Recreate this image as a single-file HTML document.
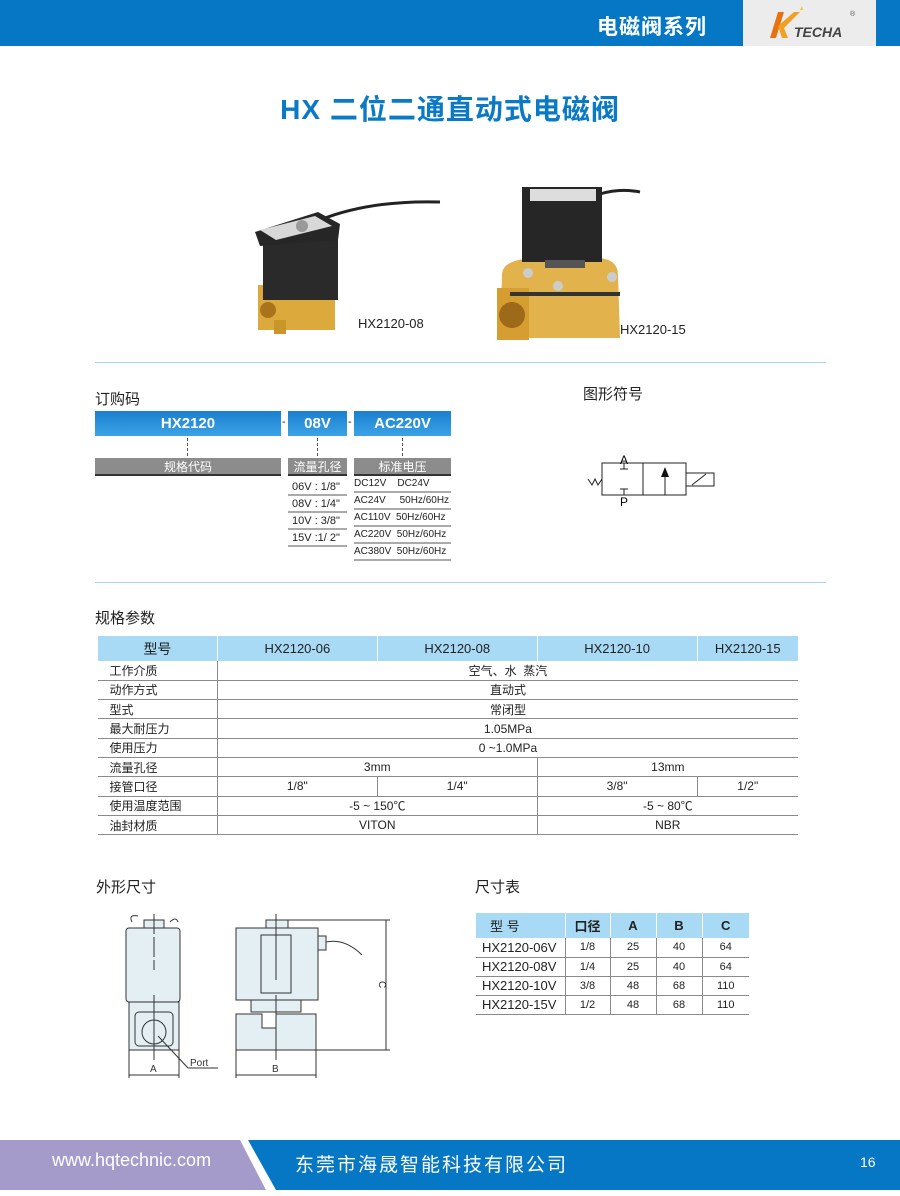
<!DOCTYPE html>
<html><head><meta charset="utf-8"><style>
*{margin:0;padding:0;box-sizing:border-box}
body{width:900px;height:1196px;position:relative;background:#fff;font-family:"Liberation Sans","Noto Sans CJK SC",sans-serif;overflow:hidden;color:#222}
.a{position:absolute}
.t{position:absolute;white-space:nowrap}
table{border-collapse:collapse;position:absolute;font-size:12px}
.spec td{height:19.3px;text-align:center;border-bottom:1px solid #8a8a8a;border-left:1px solid #8a8a8a;padding:0}
.spec td:first-child{text-align:left;padding-left:12px;border-left:none}
.spec tr.h td{background:#a8daf5;height:25px;font-size:13px;border-bottom:none;border-left:1px solid #fff}
.spec tr.h td:first-child{text-align:center;font-size:14px;padding:0}
.sz td{height:19px;text-align:center;border-bottom:1px solid #8a8a8a;border-left:1px solid #8a8a8a;font-size:11px;padding:0}
.sz td:first-child{border-left:none;font-size:13px;text-align:left;padding-left:6px}
.sz tr.h td{background:#a8daf5;height:25px;font-size:13px;border-left:1px solid #fff;border-bottom:none;font-weight:bold}
.sz tr.h td:first-child{border-left:none;font-weight:normal;padding-left:14px}
.bb{position:absolute;height:25px;background:linear-gradient(#1a7fcf,#3ba3e6);color:#fff;font-weight:bold;font-size:15px;text-align:center;line-height:25px}
.gb{position:absolute;top:458px;height:18px;background:#8c8c8c;color:#fff;font-size:12px;text-align:center;line-height:18px;border-bottom:2px solid #333}
.row{position:absolute;font-size:11px;border-bottom:2px solid #aaa;height:16.8px;line-height:16px}
.dash{position:absolute;width:0;height:18px;border-left:1px dashed #555;top:438px}
</style></head><body>
<!-- header -->
<div class="a" style="left:0;top:0;width:900px;height:46px;background:#0577c4"></div>
<div class="a" style="left:743px;top:0;width:133px;height:46px;background:#ececec"></div>
<div class="t" style="left:597px;top:11px;font-size:21px;font-weight:bold;color:#fff;letter-spacing:1px">电磁阀系列</div>
<svg class="a" style="left:760px;top:4px" width="110" height="40"><polygon points="10,34 18,8 24,8 16,34" fill="#e87212"/><polygon points="18,22 34,8 40,8 24,24 28,34 22,34" fill="#f1a224"/><polygon points="40,6 42,2 43,6" fill="#f6c21c"/><text x="34" y="33" font-size="14" font-style="italic" font-weight="bold" fill="#444" font-family="Liberation Sans">TECHA</text><text x="90" y="12" font-size="7" fill="#555">®</text></svg>
<div class="t" style="left:0;width:900px;text-align:center;top:88px;font-size:28px;font-weight:bold;color:#0a79c6;letter-spacing:1px">HX 二位二通直动式电磁阀</div>
<!-- photos -->
<svg class="a" style="left:240px;top:180px" width="410" height="170">
<path d="M80 40 Q130 20 200 22" stroke="#222" stroke-width="3" fill="none"/>
<path d="M360 14 Q380 8 400 12" stroke="#222" stroke-width="3" fill="none"/>
<rect x="18" y="105" width="77" height="45" fill="#dcaa3c"/><rect x="34" y="140" width="12" height="14" fill="#c9962a"/>
<circle cx="28" cy="130" r="8" fill="#a8731a"/>
<rect x="23" y="58" width="75" height="62" fill="#2a2a2a"/>
<polygon points="15,52 78,32 100,44 98,60 20,66" fill="#262626"/>
<polygon points="20,50 75,36 92,46 36,60" fill="#d8d8d8"/>
<circle cx="62" cy="46" r="6" fill="#999"/>
<path d="M262 95 Q262 78 300 78 L360 78 Q378 80 378 95 L380 158 L260 158 Z" fill="#e2b24c"/>
<rect x="257" y="108" width="32" height="52" fill="#d69e30"/>
<circle cx="272" cy="135" r="13" fill="#9c6a18"/>
<rect x="270" y="112" width="110" height="4" fill="#333"/>
<rect x="282" y="7" width="80" height="75" fill="#262626"/><rect x="290" y="9" width="66" height="12" fill="#ddd"/>
<rect x="305" y="80" width="40" height="8" fill="#555"/>
<circle cx="288" cy="93" r="5" fill="#ccc"/><circle cx="318" cy="106" r="5" fill="#ccc"/><circle cx="372" cy="97" r="5" fill="#ccc"/>
</svg>
<div class="t" style="left:358px;top:316px;font-size:13px">HX2120-08</div>
<div class="t" style="left:620px;top:322px;font-size:13px">HX2120-15</div>
<div class="a" style="left:95px;top:362px;width:731px;height:1px;background:#a9d6ee"></div>
<div class="a" style="left:95px;top:582px;width:731px;height:1px;background:#a9d6ee"></div>
<!-- order code -->
<div class="t" style="left:95px;top:388px;font-size:15px">订购码</div>
<div class="bb" style="left:95px;top:411px;width:186px">HX2120</div>
<div class="bb" style="left:288px;top:411px;width:59px">08V</div>
<div class="bb" style="left:354px;top:411px;width:97px">AC220V</div>
<div class="t" style="left:282px;top:416px;font-size:11px">-</div>
<div class="t" style="left:348px;top:416px;font-size:11px">-</div>
<div class="dash" style="left:187px"></div><div class="dash" style="left:317px"></div><div class="dash" style="left:402px"></div>
<div class="gb" style="left:95px;width:186px">规格代码</div>
<div class="gb" style="left:288px;width:59px">流量孔径</div>
<div class="gb" style="left:354px;width:97px">标准电压</div>
<div class="row" style="left:288px;top:479px;width:59px;padding-left:4px">06V : 1/8"</div>
<div class="row" style="left:288px;top:496px;width:59px;padding-left:4px">08V : 1/4"</div>
<div class="row" style="left:288px;top:513px;width:59px;padding-left:4px">10V : 3/8"</div>
<div class="row" style="left:288px;top:530px;width:59px;padding-left:4px">15V :1/ 2"</div>
<div class="row" style="left:354px;top:476px;width:97px;font-size:10px">DC12V&nbsp;&nbsp;&nbsp;&nbsp;DC24V</div>
<div class="row" style="left:354px;top:493px;width:97px;font-size:10px">AC24V&nbsp;&nbsp;&nbsp;&nbsp;&nbsp;50Hz/60Hz</div>
<div class="row" style="left:354px;top:510px;width:97px;font-size:10px">AC110V&nbsp;&nbsp;50Hz/60Hz</div>
<div class="row" style="left:354px;top:527px;width:97px;font-size:10px">AC220V&nbsp;&nbsp;50Hz/60Hz</div>
<div class="row" style="left:354px;top:544px;width:97px;font-size:10px">AC380V&nbsp;&nbsp;50Hz/60Hz</div>
<!-- symbol -->
<div class="t" style="left:583px;top:383px;font-size:15px">图形符号</div>
<svg class="a" style="left:580px;top:445px" width="150" height="70" font-family="Liberation Sans" font-size="12">
<rect x="22" y="18" width="84" height="32" fill="none" stroke="#222"/><line x1="63" y1="18" x2="63" y2="50" stroke="#222"/>
<rect x="106" y="28" width="28" height="13" fill="none" stroke="#222"/><line x1="112" y1="40" x2="126" y2="29" stroke="#222"/>
<line x1="85" y1="50" x2="85" y2="24" stroke="#222"/><polygon points="81,32 85,22 89,32" fill="#111"/>
<line x1="44" y1="18" x2="44" y2="24" stroke="#222"/><line x1="40" y1="24" x2="48" y2="24" stroke="#222"/>
<line x1="44" y1="50" x2="44" y2="44" stroke="#222"/><line x1="40" y1="44" x2="48" y2="44" stroke="#222"/>
<text x="40" y="19">A</text><text x="40" y="61">P</text>
<polyline points="8,34 12,40 15,34 18,40 22,34" fill="none" stroke="#222"/>
</svg>
<!-- spec -->
<div class="t" style="left:95px;top:607px;font-size:15px">规格参数</div>
<table class="spec" style="left:97px;top:636px;width:701px">
<colgroup><col style="width:120px"><col style="width:160px"><col style="width:160px"><col style="width:160px"><col style="width:101px"></colgroup>
<tr class="h"><td>型号</td><td>HX2120-06</td><td>HX2120-08</td><td>HX2120-10</td><td>HX2120-15</td></tr>
<tr><td>工作介质</td><td colspan="4">空气、水&nbsp;&nbsp;蒸汽</td></tr>
<tr><td>动作方式</td><td colspan="4">直动式</td></tr>
<tr><td>型式</td><td colspan="4">常闭型</td></tr>
<tr><td>最大耐压力</td><td colspan="4">1.05MPa</td></tr>
<tr><td>使用压力</td><td colspan="4">0 ~1.0MPa</td></tr>
<tr><td>流量孔径</td><td colspan="2">3mm</td><td colspan="2">13mm</td></tr>
<tr><td>接管口径</td><td>1/8"</td><td>1/4"</td><td>3/8"</td><td>1/2"</td></tr>
<tr><td>使用温度范围</td><td colspan="2">-5 ~ 150℃</td><td colspan="2">-5 ~ 80℃</td></tr>
<tr><td>油封材质</td><td colspan="2">VITON</td><td colspan="2">NBR</td></tr>
</table>
<!-- dims -->
<div class="t" style="left:96px;top:876px;font-size:15px">外形尺寸</div>
<div class="t" style="left:475px;top:876px;font-size:15px">尺寸表</div>
<svg class="a" style="left:100px;top:900px" width="300" height="190" stroke="#333" stroke-width="1" font-family="Liberation Sans" font-size="10">
<g fill="#e3eff3">
<rect x="44" y="20" width="20" height="9"/>
<rect x="26" y="28" width="54" height="74" rx="3"/>
<rect x="29" y="102" width="50" height="48"/>
<rect x="35" y="112" width="38" height="34" rx="4"/>
<circle cx="54" cy="132" r="12"/>
<rect x="166" y="20" width="22" height="9"/>
<rect x="136" y="28" width="82" height="72"/>
<rect x="161" y="35" width="30" height="58"/>
<rect x="218" y="36" width="8" height="14"/>
<rect x="151" y="100" width="50" height="12"/>
<polygon points="136,114 162,114 162,128 176,128 176,114 216,114 216,150 136,150"/>
</g>
<path d="M226 42 Q245 38 262 55" fill="none"/>
<path d="M32 22 q-4 -8 6 -6 M70 22 q6 -6 8 0" fill="none"/>
<line x1="54" y1="14" x2="54" y2="70" stroke-dasharray="20 3"/><line x1="54" y1="95" x2="54" y2="160"/>
<line x1="176" y1="14" x2="176" y2="80"/><line x1="176" y1="95" x2="176" y2="160"/>
<line x1="58" y1="136" x2="88" y2="168"/><line x1="88" y1="168" x2="118" y2="168"/><text x="90" y="166" stroke="none" fill="#333">Port</text>
<line x1="29" y1="150" x2="29" y2="178"/><line x1="79" y1="150" x2="79" y2="178"/><line x1="29" y1="175" x2="79" y2="175"/><text x="50" y="172" stroke="none" fill="#333">A</text>
<line x1="136" y1="150" x2="136" y2="178"/><line x1="216" y1="150" x2="216" y2="178"/><line x1="136" y1="175" x2="216" y2="175"/><text x="172" y="172" stroke="none" fill="#333">B</text>
<line x1="188" y1="20" x2="290" y2="20"/><line x1="216" y1="150" x2="290" y2="150"/><line x1="286" y1="20" x2="286" y2="150"/><text x="278" y="88" stroke="none" fill="#333" transform="rotate(90 282 85)">C</text>
</svg>
<table class="sz" style="left:476px;top:913px;width:273px">
<colgroup><col style="width:89px"><col style="width:45px"><col style="width:46px"><col style="width:46px"><col style="width:47px"></colgroup>
<tr class="h"><td>型 号</td><td>口径</td><td>A</td><td>B</td><td>C</td></tr>
<tr><td>HX2120-06V</td><td>1/8</td><td>25</td><td>40</td><td>64</td></tr>
<tr><td>HX2120-08V</td><td>1/4</td><td>25</td><td>40</td><td>64</td></tr>
<tr><td>HX2120-10V</td><td>3/8</td><td>48</td><td>68</td><td>110</td></tr>
<tr><td>HX2120-15V</td><td>1/2</td><td>48</td><td>68</td><td>110</td></tr>
</table>
<!-- footer -->
<svg class="a" style="left:0;top:1138px" width="900" height="54"><polygon points="0,2 240,2 266,52 0,52" fill="#a59bca"/><polygon points="248,2 900,2 900,52 276,52" fill="#0577c4"/></svg>
<div class="t" style="left:52px;top:1150px;font-size:18px;color:#fff">www.hqtechnic.com</div>
<div class="t" style="left:295px;top:1150px;font-size:19px;color:#fff;letter-spacing:2px">东莞市海晟智能科技有限公司</div>
<div class="t" style="left:860px;top:1154px;font-size:14px;color:#fff">16</div>
</body></html>
